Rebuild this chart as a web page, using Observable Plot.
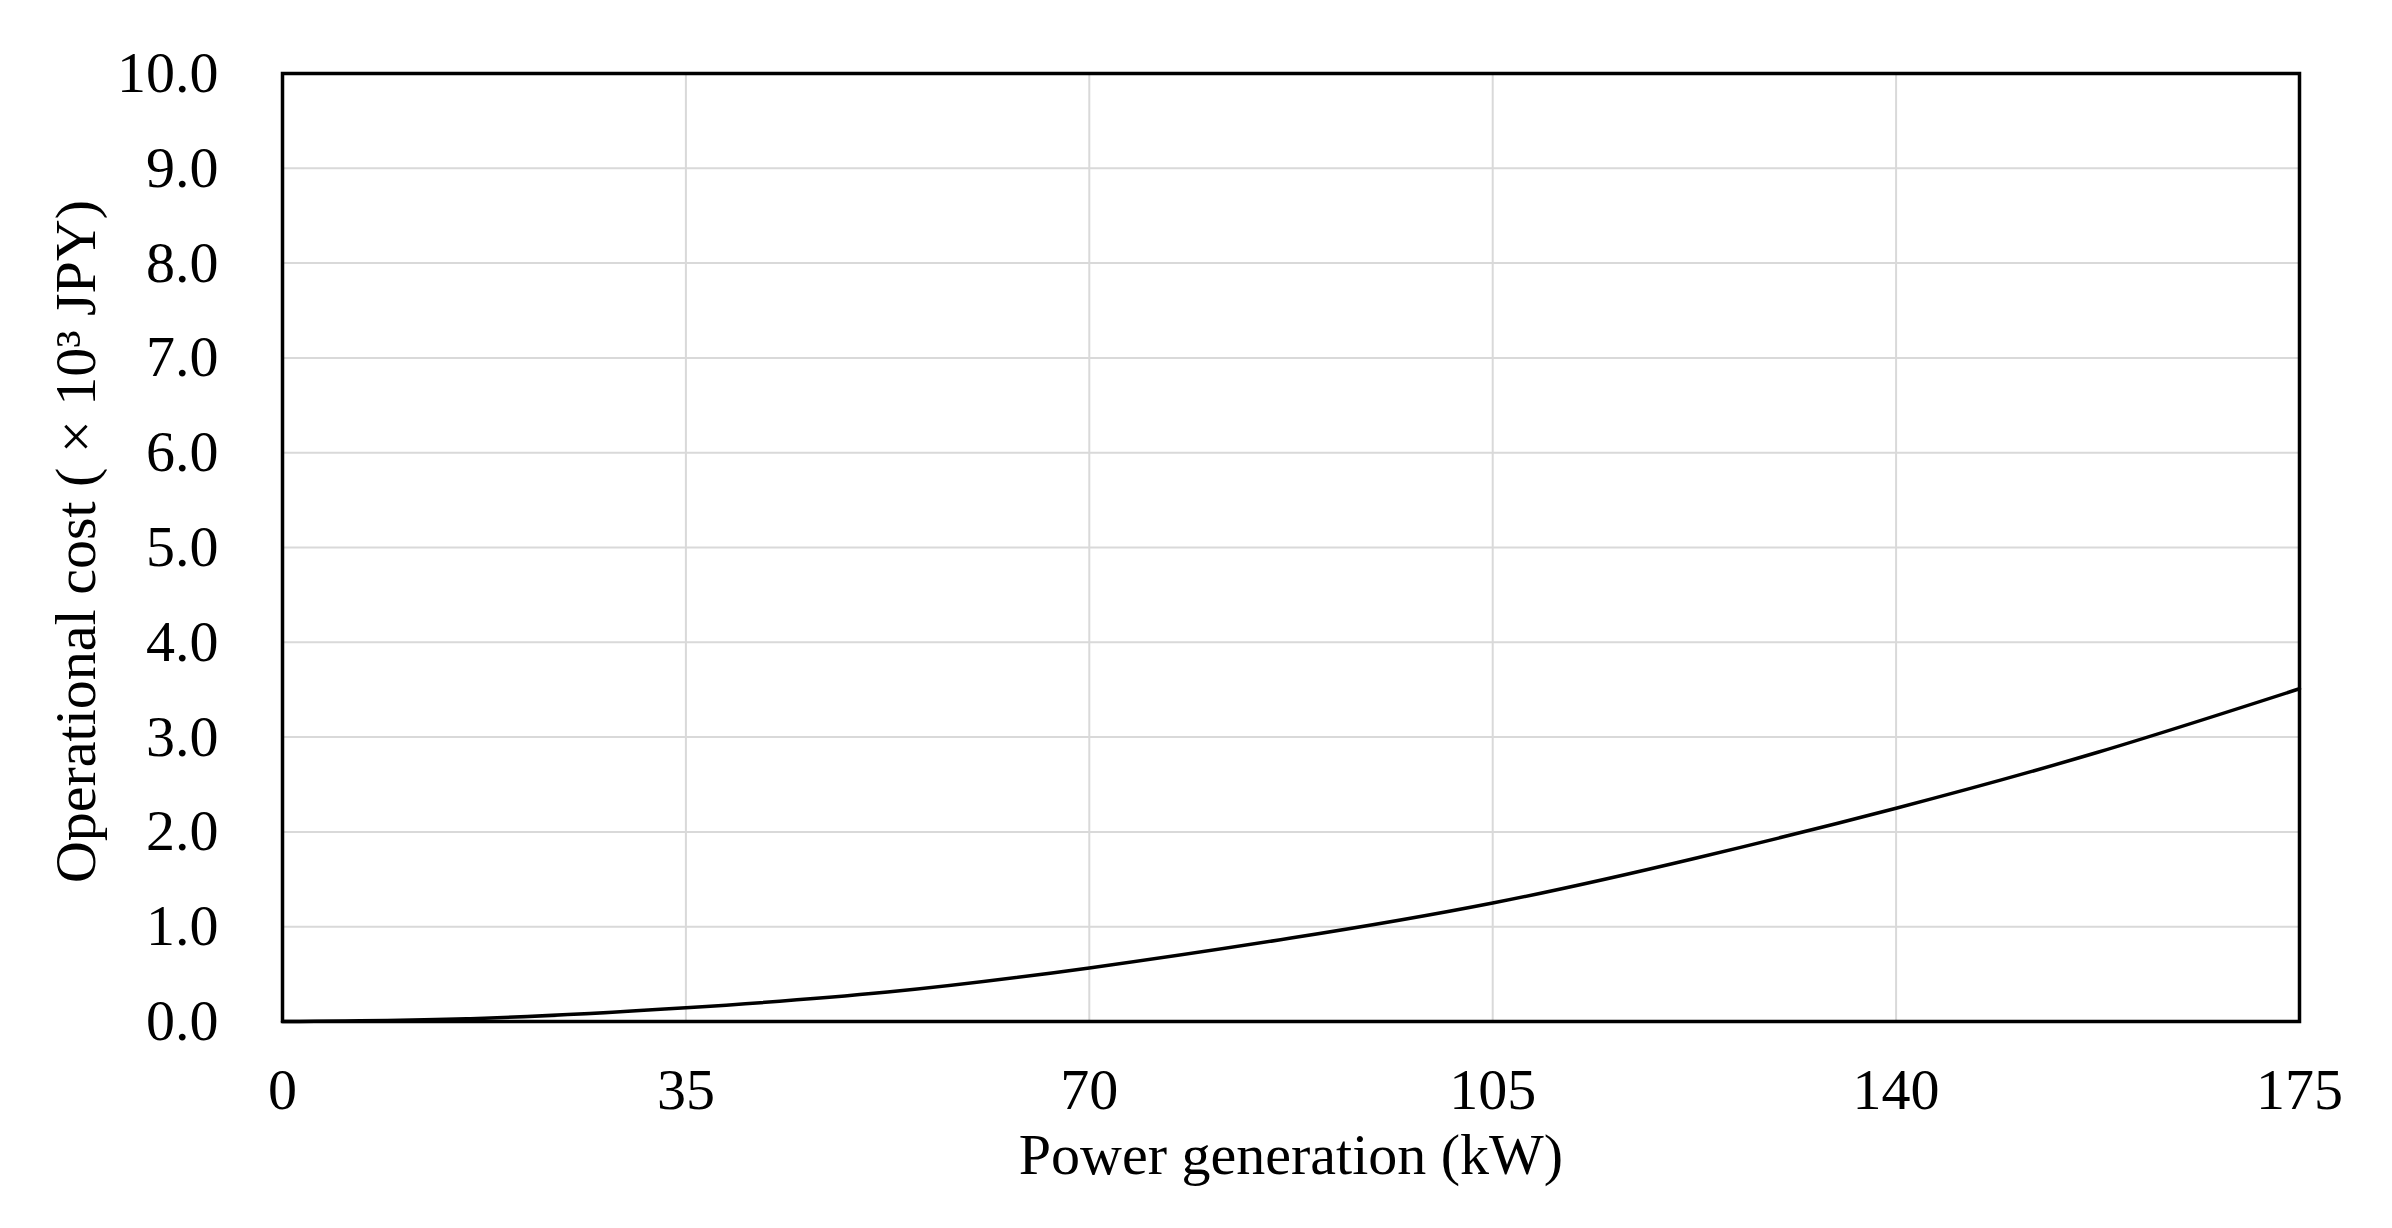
<!DOCTYPE html>
<html>
<head>
<meta charset="utf-8">
<script src="https://cdn.jsdelivr.net/npm/d3@7"></script>
<script src="https://cdn.jsdelivr.net/npm/@observablehq/plot@0.6"></script>
<style>
  html, body { margin: 0; padding: 0; background: #fff; overflow: hidden; }
  #chart svg { display: block; }
</style>
</head>
<body>
<div id="chart"></div>
<script>
// Power generation (kW) and operational cost (x10^3 JPY)
const power = [0, 17.5, 35, 52.5, 70, 87.5, 105, 122.5, 140, 157.5, 175];
const cost  = [0, 0.035, 0.145, 0.31, 0.565, 0.88, 1.25, 1.72, 2.25, 2.84, 3.51];
const xTicks = [0, 35, 70, 105, 140, 175];
const yTicks = [0, 1, 2, 3, 4, 5, 6, 7, 8, 9, 10];
const xTitle = "Power generation (kW)";
const yTitle = "Operational cost ( \u00d7 10\u00b3 JPY)";

const data = power.map((p, i) => ({power: p, cost: cost[i]}));
const font = "'Liberation Serif', 'Times New Roman', serif";

const chart = Plot.plot({
  width: 2392,
  height: 1228,
  marginLeft: 282,
  marginRight: 93,
  marginTop: 73,
  marginBottom: 207,
  style: {fontFamily: font, fontSize: "58px", background: "#fff", color: "#000"},
  x: {domain: [0, 175], ticks: xTicks, tickSize: 0, tickPadding: 46, label: null, tickFormat: d3.format("d")},
  y: {domain: [0, 10], ticks: yTicks, tickSize: 0, tickPadding: 64, label: null, tickFormat: d3.format(".1f")},
  marks: [
    Plot.ruleX(xTicks, {stroke: "#d9d9d9", strokeWidth: 2}),
    Plot.ruleY(yTicks, {stroke: "#d9d9d9", strokeWidth: 2}),
    Plot.line(data, {x: "power", y: "cost", stroke: "#000", strokeWidth: 3.5, curve: "natural"}),
    Plot.frame({stroke: "#000", strokeWidth: 3.5}),
    Plot.text([xTitle], {text: d => d, frameAnchor: "bottom", dy: 134, lineAnchor: "middle", textAnchor: "middle", fontSize: 58, fill: "#000"}),
    Plot.text([yTitle], {text: d => d, frameAnchor: "left", dx: -206, dy: -6, rotate: -90, lineAnchor: "middle", textAnchor: "middle", fontSize: 58, fill: "#000"})
  ]
});
document.getElementById("chart").appendChild(chart);
</script>
</body>
</html>
